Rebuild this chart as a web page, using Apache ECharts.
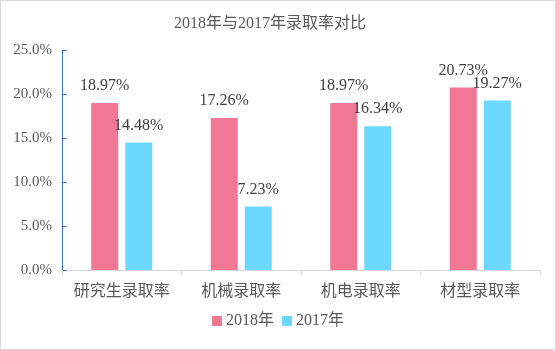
<!DOCTYPE html>
<html>
<head>
<meta charset="utf-8">
<script src="https://cdn.jsdelivr.net/npm/echarts@6/dist/echarts.min.js"></script>
<style>
  html, body { margin: 0; padding: 0; background: #fff; }
  #chart { width: 556px; height: 350px; box-sizing: border-box; border: 1px solid #d9d9d9; }
</style>
</head>
<body>
<div id="chart"></div>
<script>
// 数据
let categories = ['研究生录取率', '机械录取率', '机电录取率', '材型录取率'];
let rate2018 = [18.97, 17.26, 18.97, 20.73];
let rate2017 = [14.48, 7.23, 16.34, 19.27];
let seriesNames = ['2018年', '2017年'];
let yMin = 0, yMax = 25, yStep = 5;

let font = "'Liberation Serif', 'Noto Sans CJK SC', serif";

let myChart = echarts.init(document.getElementById('chart'), null, { renderer: 'canvas' });
myChart.setOption({
  animation: false,
  textStyle: { fontFamily: font },
  title: {
    text: '2018年与2017年录取率对比',
    left: 168,
    top: 10,
    textStyle: { fontFamily: font, fontSize: 16, fontWeight: 'normal', color: '#595959' }
  },
  legend: {
    data: seriesNames,
    bottom: 15,
    left: 'center',
    itemWidth: 10,
    itemHeight: 10,
    itemGap: 8,
    icon: 'rect',
    textStyle: { fontFamily: font, fontSize: 16, color: '#595959', padding: [0, 0, 0, -1] }
  },
  grid: { left: 61, right: 15, top: 49, bottom: 79 },
  xAxis: {
    type: 'category',
    data: categories,
    axisLine: { lineStyle: { color: '#d9d9d9' } },
    axisTick: { show: true, length: 5, lineStyle: { color: '#d9d9d9' } },
    axisLabel: { interval: 0, fontFamily: font, fontSize: 16, color: '#595959', margin: 14 }
  },
  yAxis: {
    type: 'value',
    min: yMin,
    max: yMax,
    interval: yStep,
    axisLine: { show: true, lineStyle: { color: '#4472c4' } },
    axisTick: { show: true, inside: true, length: 5, lineStyle: { color: '#4472c4' } },
    splitLine: { show: false },
    axisLabel: {
      fontFamily: font, fontSize: 15, color: '#595959', margin: 10,
      formatter: function (v) { return v.toFixed(1) + '%'; }
    }
  },
  series: [
    {
      name: seriesNames[0],
      type: 'bar',
      data: rate2018,
      barWidth: 27,
      barGap: '26%',
      itemStyle: { color: '#f17894' },
      label: {
        show: true, position: 'top', distance: 9,
        fontFamily: font, fontSize: 16, color: '#404040',
        formatter: function (p) { return p.value.toFixed(2) + '%'; }
      }
    },
    {
      name: seriesNames[1],
      type: 'bar',
      data: rate2017,
      barWidth: 27,
      itemStyle: { color: '#6cd8fd' },
      label: {
        show: true, position: 'top', distance: 9,
        fontFamily: font, fontSize: 16, color: '#404040',
        formatter: function (p) { return p.value.toFixed(2) + '%'; }
      }
    }
  ]
});
</script>
</body>
</html>
